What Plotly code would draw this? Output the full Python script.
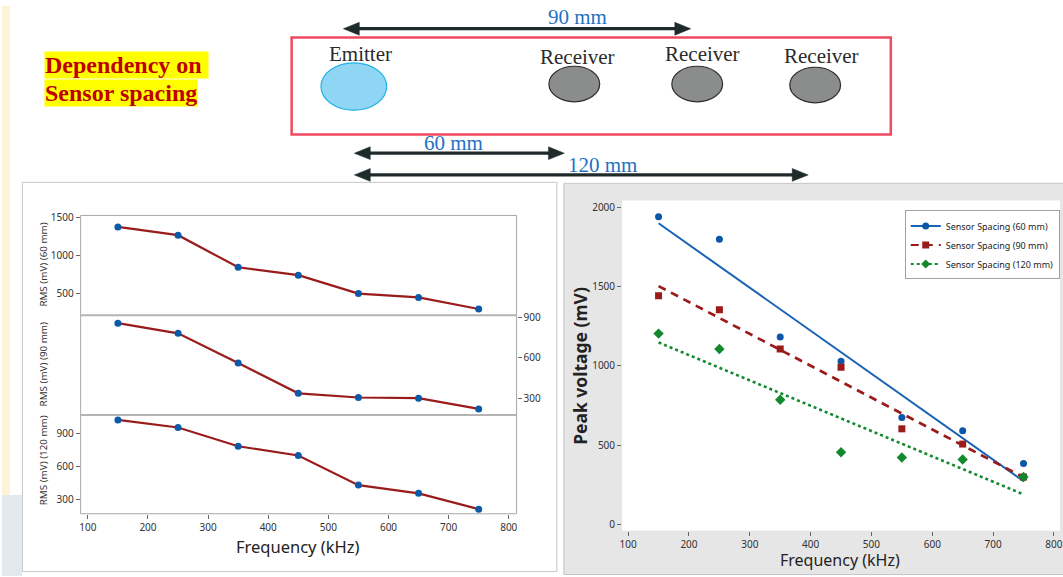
import numpy as np
import plotly.graph_objects as go

W, H = 1063, 577

# ---------------- data ----------------
freq = [150, 250, 350, 450, 550, 650, 750]
rms_60 = [1375, 1267, 845, 742, 500, 450, 298]
rms_90 = [856, 781, 562, 338, 307, 302, 223]
rms_120 = [1023, 954, 783, 699, 429, 354, 210]

peak_60 = [1940, 1799, 1183, 1030, 676, 592, 386]
peak_90 = [1443, 1354, 1107, 992, 604, 508, 300]
peak_120 = [1204, 1107, 787, 456, 423, 411, 300]

series_names = ["Sensor Spacing (60 mm)", "Sensor Spacing (90 mm)", "Sensor Spacing (120 mm)"]
rms_titles = ["RMS (mV) (60 mm)", "RMS (mV) (90 mm)", "RMS (mV) (120 mm)"]
x_ticks = [100, 200, 300, 400, 500, 600, 700, 800]


def px(x):
    return x / W


def py(y):
    return 1 - y / H


SANS = "Noto Sans"
SERIF = "Liberation Serif"

fig = go.Figure()

# ---------------- left panel: stacked RMS plots ----------------
line_red = "#9a1b1b"
mk_blue = "#0b5aa8"
for vals, ya in zip([rms_60, rms_90, rms_120], ["y", "y2", "y3"]):
    fig.add_trace(go.Scatter(
        x=freq, y=vals, xaxis="x", yaxis=ya, mode="lines+markers",
        line=dict(color=line_red, width=2.2),
        marker=dict(color=mk_blue, size=7),
        showlegend=False, hoverinfo="x+y"))

# ---------------- right panel: peak voltage with fits ----------------
colors = ["#0b56a8", "#9b1b1b", "#13892f"]
line_colors = ["#1863b5", "#9b1b1b", "#13892f"]
symbols = ["circle", "square", "diamond"]
dashes = ["solid", "8px,6px", "3px,3px"]
widths = [2, 2.6, 2.6]
sizes = [7, 7, 8]
xf = np.array([min(freq), max(freq)], dtype=float)
for vals, c, lc, s, d, w, sz, name in zip([peak_60, peak_90, peak_120], colors, line_colors,
                                          symbols, dashes, widths, sizes, series_names):
    slope, icpt = np.polyfit(freq, vals, 1)
    fig.add_trace(go.Scatter(
        x=xf, y=slope * xf + icpt, xaxis="x4", yaxis="y4", mode="lines",
        line=dict(color=lc, width=w, dash=d), showlegend=False, hoverinfo="skip"))
    fig.add_trace(go.Scatter(
        x=freq, y=vals, xaxis="x4", yaxis="y4", mode="markers",
        marker=dict(color=c, symbol=s, size=sz), showlegend=False, name=name))
    # legend entry (line + marker)
    fig.add_trace(go.Scatter(
        x=[None], y=[None], xaxis="x4", yaxis="y4", mode="lines+markers",
        line=dict(color=lc, width=2, dash=d), marker=dict(color=c, symbol=s, size=7),
        name=name, showlegend=True))

tickfont = dict(family=SANS, size=10, color="#333333")

# left axes geometry (pixels)
LX0, LX1 = 79, 517
LY = [212, 313, 414, 514]
RX0, RX1 = 623, 1063
RY0, RY1 = 197, 531

common_y = dict(showgrid=False, zeroline=False, showline=False, ticks="outside",
                ticklen=4, tickcolor="#666666", tickfont=tickfont)

fig.update_layout(
    width=W, height=H, autosize=False,
    margin=dict(l=0, r=0, t=0, b=0),
    paper_bgcolor="white", plot_bgcolor="white",
    xaxis=dict(domain=[px(LX0), px(LX1)], anchor="y3", range=[88, 813],
               tickvals=x_ticks, showgrid=False, zeroline=False, showline=False,
               ticks="outside", ticklen=4, tickcolor="#666666", tickfont=tickfont),
    yaxis=dict(domain=[py(LY[1]), py(LY[0])], anchor="x", range=[216, 1526],
               tickvals=[500, 1000, 1500], **common_y),
    yaxis2=dict(domain=[py(LY[2]), py(LY[1])], anchor="x", side="right", range=[178, 915],
                tickvals=[300, 600, 900], **common_y),
    yaxis3=dict(domain=[py(LY[3]), py(LY[2])], anchor="x", range=[168, 1068],
                tickvals=[300, 600, 900], **common_y),
    xaxis4=dict(domain=[px(RX0), 1.0], anchor="y4", range=[90, 810],
                tickvals=x_ticks, showgrid=False, zeroline=False, showline=False,
                ticks="outside", ticklen=4, tickcolor="#666666", tickfont=tickfont,
                ticklabeloverflow="allow"),
    yaxis4=dict(domain=[py(RY1), py(RY0)], anchor="x4", range=[-37, 2042],
                tickvals=[0, 500, 1000, 1500, 2000], **common_y),
    legend=dict(x=px(907), y=py(207), xanchor="left", yanchor="top",
                bgcolor="white", bordercolor="#a0a0a0", borderwidth=1,
                font=dict(family=SANS, size=9, color="#222222"),
                itemwidth=30, tracegroupgap=0),
)

shapes = []


def rect(x0, y0, x1, y1, fill=None, line=None, lw=1, layer="below"):
    d = dict(type="rect", xref="paper", yref="paper",
             x0=px(x0), x1=px(x1), y0=py(y1), y1=py(y0), layer=layer,
             line=dict(color=line if line else "rgba(0,0,0,0)", width=lw if line else 0))
    if fill:
        d["fillcolor"] = fill
    return d


# page background pieces
shapes.append(rect(0, 0, 8, 495, fill="#fdf3d6"))
shapes.append(rect(0, 495, 20, 577, fill="#e3eaee"))
# left panel frame
shapes.append(rect(20.5, 178.5, 557.5, 572.5, fill="white", line="#c6c6c6"))
# right panel frame + plot area
shapes.append(rect(564.5, 179.5, 1075, 575.5, fill="#e6e6e6", line="#c6c6c6"))
shapes.append(rect(RX0, RY0, RX1, RY1, fill="white"))
# left plot border and separators
shapes.append(rect(LX0, LY[0], LX1, LY[3], line="#a8a8a8", lw=1, layer="above"))
for yy in (LY[1], LY[2]):
    shapes.append(dict(type="line", xref="paper", yref="paper", x0=px(LX0), x1=px(LX1),
                       y0=py(yy), y1=py(yy), line=dict(color="#b4b4b4", width=2), layer="above"))

# sensor diagram
shapes.append(rect(291, 32, 893, 130, line="#ef4a5f", lw=2.5, layer="above"))


def ellipse(cx, cy, rx, ry, fill, line):
    return dict(type="circle", xref="paper", yref="paper",
                x0=px(cx - rx), x1=px(cx + rx), y0=py(cy + ry), y1=py(cy - ry),
                fillcolor=fill, line=dict(color=line, width=1.2), layer="above")


shapes.append(ellipse(353.5, 81.5, 33, 24, "#8fd5f4", "#22b2e6"))
for cx, cy in [(575, 79), (698.5, 79), (817, 80)]:
    shapes.append(ellipse(cx, cy, 25.5, 18, "#8b8d8d", "#2d2d2d"))

ARROW = "#1f2b2b"


def arrow(x0, x1, y, hl=16, hh=6.5):
    out = [dict(type="line", xref="paper", yref="paper", x0=px(x0 + hl - 2), x1=px(x1 - hl + 2),
                y0=py(y), y1=py(y), line=dict(color=ARROW, width=3.2), layer="above")]
    for tip, base in [(x0, x0 + hl), (x1, x1 - hl)]:
        path = "M {},{} L {},{} L {},{} Z".format(px(tip), py(y), px(base), py(y - hh),
                                                   px(base), py(y + hh))
        out.append(dict(type="path", xref="paper", yref="paper", path=path,
                        fillcolor=ARROW, line=dict(color=ARROW, width=0.5), layer="above"))
    return out


shapes += arrow(343, 692, 23)
shapes += arrow(354, 565, 149)
shapes += arrow(354, 810, 171)

fig.update_layout(shapes=shapes)

ann = []


def text(x, y, s, size, color, family=SANS, angle=0, **kw):
    d = dict(xref="paper", yref="paper", x=px(x), y=py(y), text=s, showarrow=False,
             xanchor="center", yanchor="middle", textangle=angle,
             font=dict(family=family, size=size, color=color))
    d.update(kw)
    return d


# titles for left panel
for t, yc in zip(rms_titles, [262, 363, 460]):
    ann.append(text(42, yc, t, 9.8, "#333333", angle=-90))
ann.append(text(297, 547, "Frequency (kHz)", 16.5, "#222222"))
# titles for right panel
ann.append(text(580, 364, "<b>Peak voltage (mV)</b>", 17.5, "#222222", angle=-90))
ann.append(text(842, 561, "Frequency (kHz)", 16, "#222222"))

# diagram labels
ann.append(text(360, 49, "Emitter", 21, "#2b2b2b", family=SERIF))
ann.append(text(578, 52, "Receiver", 21, "#2b2b2b", family=SERIF))
ann.append(text(704, 49, "Receiver", 21, "#2b2b2b", family=SERIF))
ann.append(text(823, 51, "Receiver", 21, "#2b2b2b", family=SERIF))
ann.append(text(578, 11, "90 mm", 21, "#1f72c2", family=SERIF))
ann.append(text(454, 139, "60 mm", 21, "#1f72c2", family=SERIF))
ann.append(text(603, 161, "120 mm", 21, "#1f72c2", family=SERIF))

# heading
ann.append(text(42, 59.5, "<b>Dependency on </b>", 24, "#c00000", family=SERIF,
                xanchor="left", bgcolor="#ffff00", borderpad=0))
ann.append(text(42, 88.5, "<b>Sensor spacing</b>", 24, "#c00000", family=SERIF,
                xanchor="left", bgcolor="#ffff00", borderpad=0))

fig.update_layout(annotations=ann)

fig.write_html("out.html", config={"displayModeBar": False},
               post_script="document.body.style.margin='0';document.body.style.overflow='hidden';")
